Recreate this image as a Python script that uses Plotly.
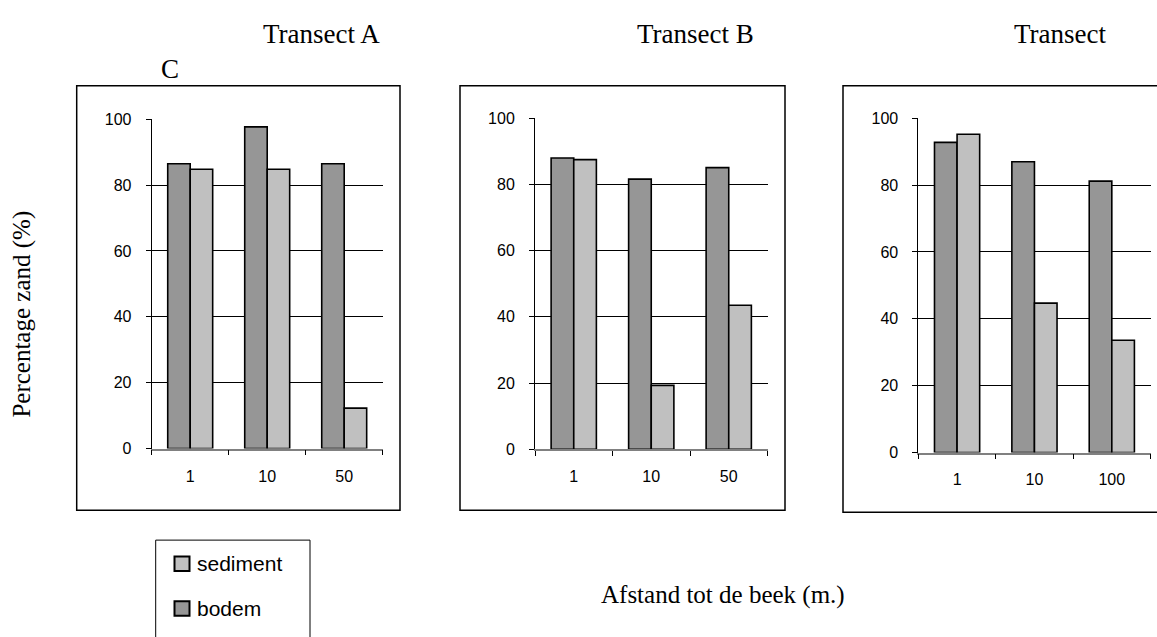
import plotly.graph_objects as go

# ---- data ----
cats_A = ["1", "10", "50"]
cats_B = ["1", "10", "50"]
cats_C = ["1", "10", "100"]
bodem_A = [86.5, 97.7, 86.5]
sediment_A = [84.8, 84.8, 12.3]
bodem_B = [88.0, 81.6, 85.1]
sediment_B = [87.5, 19.3, 43.5]
bodem_C = [92.8, 87.0, 81.2]
sediment_C = [95.2, 44.7, 33.6]
panel_titles = ["Transect A", "Transect B", "Transect"]
series_names = ["bodem", "sediment"]
y_ticks = [0, 20, 40, 60, 80, 100]

W, H = 1157, 637
def px(x):
    return x / W
def py(y):
    return 1 - y / H

BODEM_COL = "#969696"
SED_COL = "#C0C0C0"
SANS = "Liberation Sans"
SERIF = "Liberation Serif"

fig = go.Figure()
panels = [
    (cats_A, bodem_A, sediment_A, "x", "y"),
    (cats_B, bodem_B, sediment_B, "x2", "y2"),
    (cats_C, bodem_C, sediment_C, "x3", "y3"),
]
for cats, bod, sed, xa, ya in panels:
    fig.add_trace(go.Bar(x=cats, y=bod, name=series_names[0], xaxis=xa, yaxis=ya,
                         marker=dict(color=BODEM_COL, line=dict(color="black", width=1.6)),
                         showlegend=False))
    fig.add_trace(go.Bar(x=cats, y=sed, name=series_names[1], xaxis=xa, yaxis=ya,
                         marker=dict(color=SED_COL, line=dict(color="black", width=1.6)),
                         showlegend=False))

x_domains = [(151.7, 382.7), (535.0, 767.5), (918.4, 1150.5)]
y_domains = [(114.3, 452.7), (113.3, 453.3), (113.3, 456.7)]

def xaxis_cfg(dom):
    return dict(domain=[px(dom[0]), px(dom[1])], type="category",
                tickson="boundaries", ticks="outside", ticklen=5, tickcolor="black",
                tickwidth=1, showline=True, linecolor="#808080", linewidth=1.5,
                showgrid=False, zeroline=False, fixedrange=True,
                tickfont=dict(family=SANS, size=16, color="black"),
                ticklabelstandoff=12)

def yaxis_cfg(dom, anchor):
    return dict(domain=[py(dom[1]), py(dom[0])], range=[0, 100], tickvals=y_ticks,
                ticks="outside", ticklen=5, tickcolor="black", tickwidth=1,
                showline=True, linecolor="black", linewidth=1,
                showgrid=True, gridcolor="black", gridwidth=1, zeroline=False,
                anchor=anchor, fixedrange=True,
                tickfont=dict(family=SANS, size=16, color="black"),
                ticklabelstandoff=11)

layout = dict(
    width=W, height=H, margin=dict(l=0, r=0, t=0, b=0),
    paper_bgcolor="white", plot_bgcolor="white",
    barmode="group", bargap=0.416, bargroupgap=0,
    showlegend=False,
)
for i, suf in enumerate(["", "2", "3"]):
    xa = xaxis_cfg(x_domains[i])
    xa["anchor"] = "y" + suf
    layout["xaxis" + suf] = xa
    layout["yaxis" + suf] = yaxis_cfg(y_domains[i], "x" + suf)
fig.update_layout(**layout)

# panel boxes
boxes = [(76.7, 80, 400, 516), (460, 80, 785, 516), (843, 80, 1175, 518)]
for x0, y0, x1, y1 in boxes:
    fig.add_shape(type="rect", xref="paper", yref="paper",
                  x0=px(x0), x1=px(x1), y0=py(y1), y1=py(y0),
                  line=dict(color="black", width=1.5), fillcolor="rgba(0,0,0,0)", layer="below")

# legend box (manual)
fig.add_shape(type="rect", xref="paper", yref="paper",
              x0=px(155.7), x1=px(310), y0=py(670), y1=py(546.7),
              line=dict(color="black", width=1), fillcolor="white")
legend_items = [(series_names[1], SED_COL, 571), (series_names[0], BODEM_COL, 617)]
for name, col, yc in legend_items:
    fig.add_shape(type="rect", xref="paper", yref="paper",
                  x0=px(174.5), x1=px(189.5), y0=py(yc + 7.5), y1=py(yc - 7.5),
                  line=dict(color="black", width=2), fillcolor=col)
    fig.add_annotation(x=px(195), y=py(yc), xref="paper", yref="paper",
                       text=name, showarrow=False, xanchor="left", yanchor="middle",
                       font=dict(family=SANS, size=21, color="black"))

# titles
title_pos = [(321.7, 27), (695, 27), (1060, 27)]
for t, (x, y) in zip(panel_titles, title_pos):
    fig.add_annotation(x=px(x), y=py(y), xref="paper", yref="paper", text=t,
                       showarrow=False, xanchor="center", yanchor="middle",
                       font=dict(family=SERIF, size=27, color="black"))
fig.add_annotation(x=px(169.5), y=py(63), xref="paper", yref="paper", text="C",
                   showarrow=False, xanchor="center", yanchor="middle",
                   font=dict(family=SERIF, size=27, color="black"))

# axis titles
fig.add_annotation(x=px(22), y=py(315), xref="paper", yref="paper",
                   text="Percentage zand (%)", textangle=-90, showarrow=False,
                   xanchor="center", yanchor="middle",
                   font=dict(family=SERIF, size=25, color="black"))
fig.add_annotation(x=px(723), y=py(603), xref="paper", yref="paper",
                   text="Afstand tot de beek (m.)", showarrow=False,
                   xanchor="center", yanchor="middle",
                   font=dict(family=SERIF, size=25, color="black"))

fig.write_html("out.html",
               config={"displayModeBar": False},
               post_script="document.body.style.margin='0';"
                           "document.body.style.overflow='hidden';"
                           "document.documentElement.style.overflow='hidden';")
